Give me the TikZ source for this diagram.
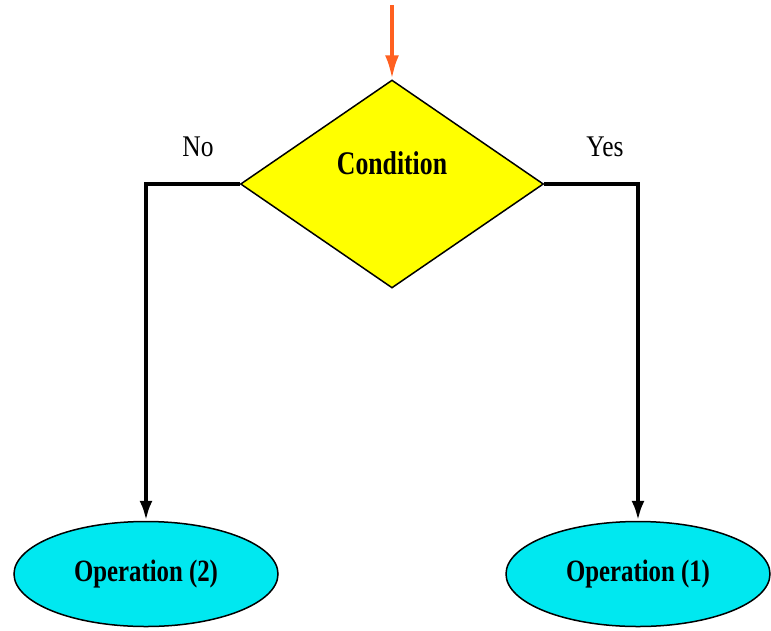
\documentclass[tikz,border=0pt]{standalone}
\usepackage{fontspec}
\setmainfont{Liberation Serif}
\usepackage{xcolor}
\usetikzlibrary{shapes.geometric, arrows.meta}

\definecolor{condyellow}{RGB}{255,255,0}
\definecolor{opcyan}{RGB}{0,232,240}
\definecolor{inorange}{RGB}{255,96,32}

\begin{document}
\begin{tikzpicture}[x=1pt, y=-1pt]
				\tikzstyle{every node}=[inner sep=0pt];
				\tikzstyle{condbox}=[diamond, draw=black, line width=1.5pt, fill=condyellow, minimum width=303pt, minimum height=208pt];
				\tikzstyle{opbox}=[ellipse, draw=black, line width=1.5pt, fill=opcyan, minimum width=264pt, minimum height=105pt];
				\tikzstyle{branch}=[line width=4.5pt, -{Latex[length=20pt, width=13pt]}];

				\useasboundingbox[fill=white] (0, 0) rectangle (771, 630);

				%Level 1
				\coordinate (start) at (392, 5);
				\node[condbox] (cond) at (392, 184) {};
				\node[font=\fontsize{33}{36}\selectfont\bfseries] (condtext) at (392, 163) {\scalebox{0.78}[1]{Condition}};

				%Level 2
				\node[opbox] (op2) at (146, 574) {};
				\node[font=\fontsize{31}{34}\selectfont\bfseries] (op2text) at (op2.center) {\scalebox{0.8}[1]{Operation (2)}};
				\node[opbox] (op1) at (638, 574) {};
				\node[font=\fontsize{31}{34}\selectfont\bfseries] (op1text) at (op1.center) {\scalebox{0.8}[1]{Operation (1)}};

				%Lines
				\draw[line width=4pt, inorange, -{Latex[length=24pt, width=14pt]}] (start) -- (cond.north);
				\draw[branch] (cond.west) -| (op2.north);
				\draw[branch] (cond.east) -| (op1.north);

				%Labels
				\node[font=\fontsize{30}{33}\selectfont] (no) at (198, 147) {\scalebox{0.85}[1]{No}};
				\node[font=\fontsize{30}{33}\selectfont] (yes) at (605, 147) {\scalebox{0.85}[1]{Yes}};

			\end{tikzpicture}
\end{document}
